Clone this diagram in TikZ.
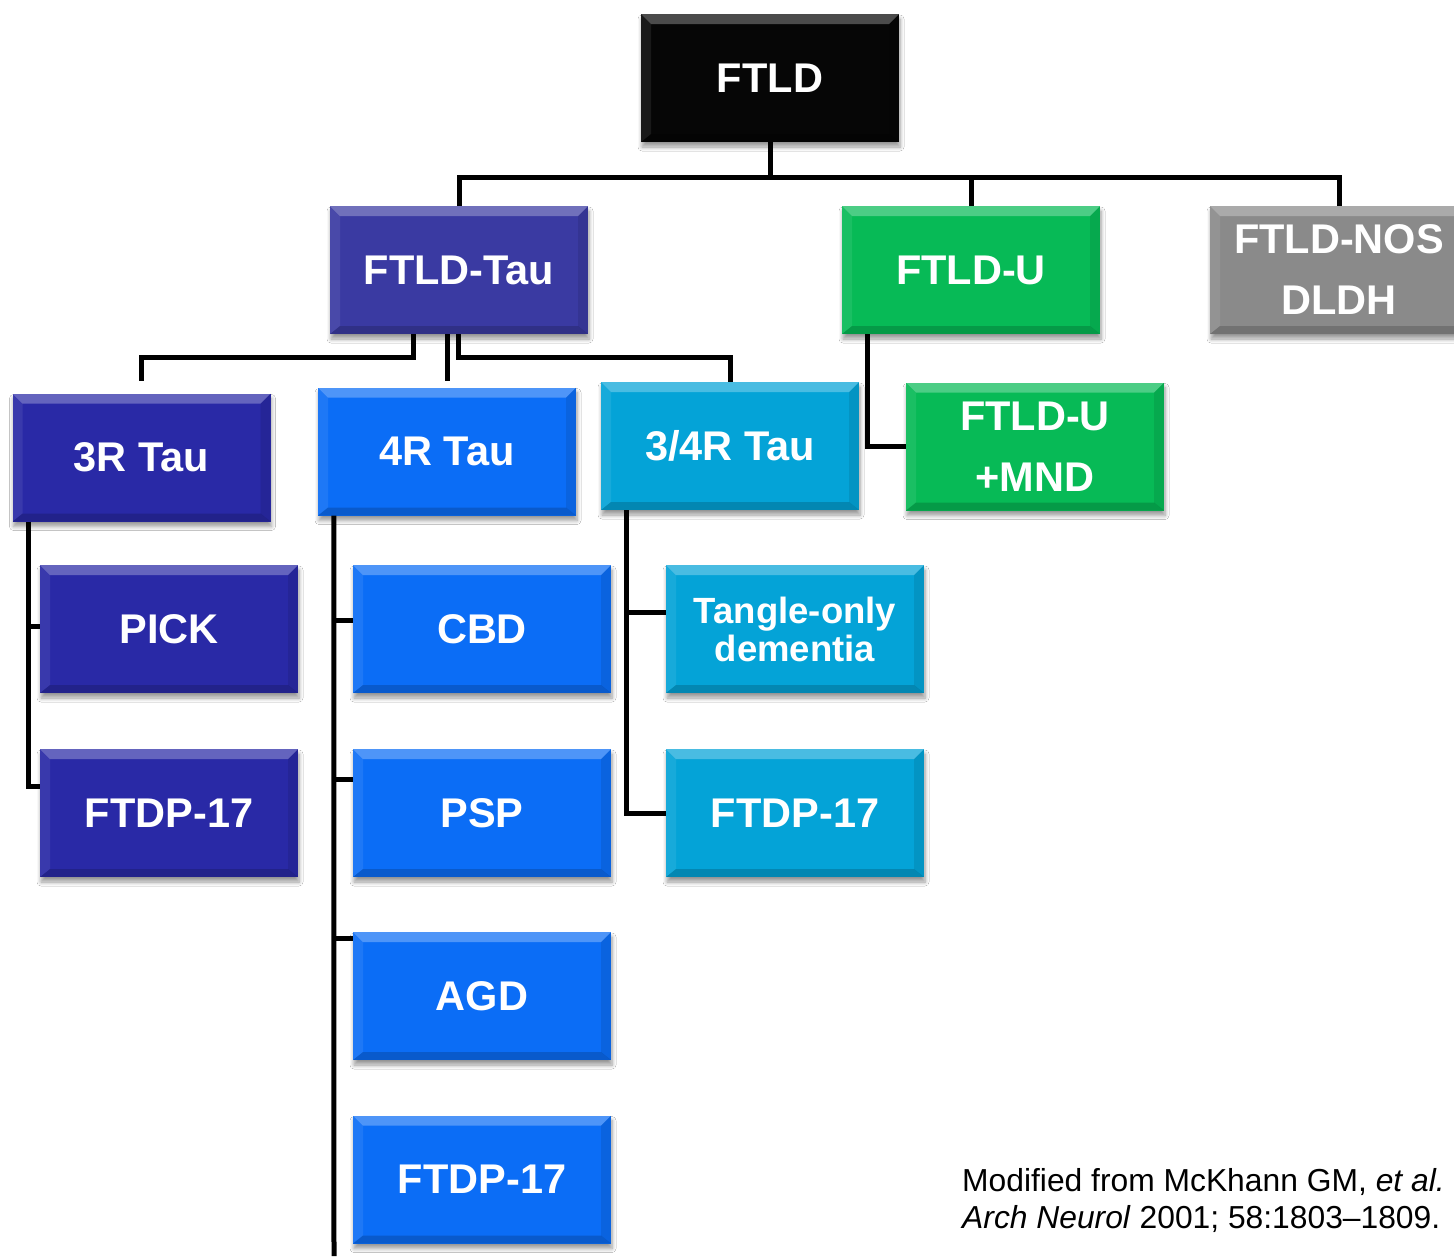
\documentclass[tikz,border=0pt]{standalone}
\usepackage{fontspec}
\setmainfont{Liberation Sans}
\usetikzlibrary{shadows.blur}
\definecolor{cblack}{HTML}{060606}
\definecolor{ctau}{HTML}{3A3AA2}
\definecolor{cthree}{HTML}{2929A6}
\definecolor{cfour}{HTML}{0B6DF6}
\definecolor{cmix}{HTML}{04A3D7}
\definecolor{cgreen}{HTML}{07BA56}
\definecolor{cgray}{HTML}{8A8A8A}
\tikzset{
  conn/.style={line width=5pt, draw=black},
  bx/.style={fill=#1, minimum width=258pt, minimum height=128pt, inner sep=0pt,
    text=white, align=center, font=\bfseries\fontsize{41.5}{61}\selectfont,
    blur shadow={shadow xshift=1pt, shadow yshift=-5pt, shadow blur radius=4pt, shadow blur steps=6, shadow opacity=40},
    path picture={
      \fill[white,opacity=.28] (path picture bounding box.north west) -- (path picture bounding box.north east)
        -- ([shift={(-10pt,-10pt)}]path picture bounding box.north east) -- ([shift={(10pt,-10pt)}]path picture bounding box.north west) -- cycle;
      \fill[white,opacity=.08] (path picture bounding box.north west) -- ([shift={(10pt,-10pt)}]path picture bounding box.north west)
        -- ([shift={(10pt,8pt)}]path picture bounding box.south west) -- (path picture bounding box.south west) -- cycle;
      \fill[black,opacity=.17] (path picture bounding box.south west) -- (path picture bounding box.south east)
        -- ([shift={(-10pt,8pt)}]path picture bounding box.south east) -- ([shift={(10pt,8pt)}]path picture bounding box.south west) -- cycle;
      \fill[black,opacity=.09] (path picture bounding box.north east) -- ([shift={(-10pt,-10pt)}]path picture bounding box.north east)
        -- ([shift={(-10pt,8pt)}]path picture bounding box.south east) -- (path picture bounding box.south east) -- cycle;
    }},
  cite/.style={anchor=base west, inner sep=0pt, font=\fontsize{31.8}{38}\selectfont}
}
\begin{document}
\begin{tikzpicture}[x=1pt,y=-1pt]
\useasboundingbox[fill=white] (0,0) rectangle (1454,1256);
% level 0
\node[bx=cblack] (ftld) at (770,78) {FTLD};
% level 1
\node[bx=ctau] (tau) at (459,270) {FTLD-Tau};
\node[bx=cgreen] (u) at (971,270) {FTLD-U};
\node[bx=cgray] (nos) at (1339,270) {FTLD-NOS\\DLDH};
% level 2
\node[bx=cthree] (r3) at (141.5,457.5) {3R Tau};
\node[bx=cfour] (r4) at (447,451.5) {4R Tau};
\node[bx=cmix] (r34) at (730,446) {3/4R Tau};
\node[bx=cgreen] (mnd) at (1035,446.5) {FTLD-U\\+MND};
% level 3
\node[bx=cthree] (pick) at (169,629) {PICK};
\node[bx=cthree] (ftdpa) at (169,813) {FTDP-17};
\node[bx=cfour] (cbd) at (482,629) {CBD};
\node[bx=cfour] (psp) at (482,813) {PSP};
\node[bx=cfour] (agd) at (482,996) {AGD};
\node[bx=cfour] (ftdpb) at (482,1179.5) {FTDP-17};
\node[bx=cmix, font=\bfseries\fontsize{36.5}{38}\selectfont] (tangle) at (795,629) {Tangle-only\\dementia};
\node[bx=cmix] (ftdpc) at (795,813) {FTDP-17};
% connectors from FTLD
\draw[conn] (ftld.south) -- ++(0,35) -| (tau.north);
\draw[conn] (ftld.south) -- ++(0,35) -| (u.north);
\draw[conn] (ftld.south) -- ++(0,35) -| (nos.north);
% connectors from FTLD-Tau
\draw[conn] ([xshift=-46pt]tau.south) -- ++(0,23) -| ([yshift=12pt]r3.north);
\draw[conn] (r4.north |- tau.south) -- ([yshift=6pt]r4.north);
\draw[conn] ([xshift=-1pt]tau.south) -- ++(0,23) -| (r34.north);
% FTLD-U to MND
\draw[conn] ([xshift=-104pt]u.south) |- (mnd.west);
% 3R branch
\draw[conn] ([xshift=16pt]r3.south west) |- ([yshift=27pt]ftdpa.west);
\draw[conn] ([yshift=3pt]pick.west) -- ++(-14,0);
% 4R branch
\coordinate (end4) at (334,1256);
\draw[conn] ([xshift=16pt]r4.south west) -- (end4);
\draw[conn] ([yshift=9pt]cbd.west) -- ++(-21,0);
\draw[conn] ([yshift=34pt]psp.west) -- ++(-21,0);
\draw[conn] ([yshift=58pt]agd.west) -- ++(-21,0);
% 3/4R branch
\draw[conn] ([xshift=26pt]r34.south west) |- (ftdpc.west);
\draw[conn] ([yshift=17pt]tangle.west) -- ++(-41,0);
% citation
\node[cite] (cite1) at (962,1191) {Modified from McKhann GM, \textit{et al.}};
\node[cite] (cite2) at (962,1228) {\textit{Arch Neurol} 2001; 58:1803--1809.};
\end{tikzpicture}
\end{document}
